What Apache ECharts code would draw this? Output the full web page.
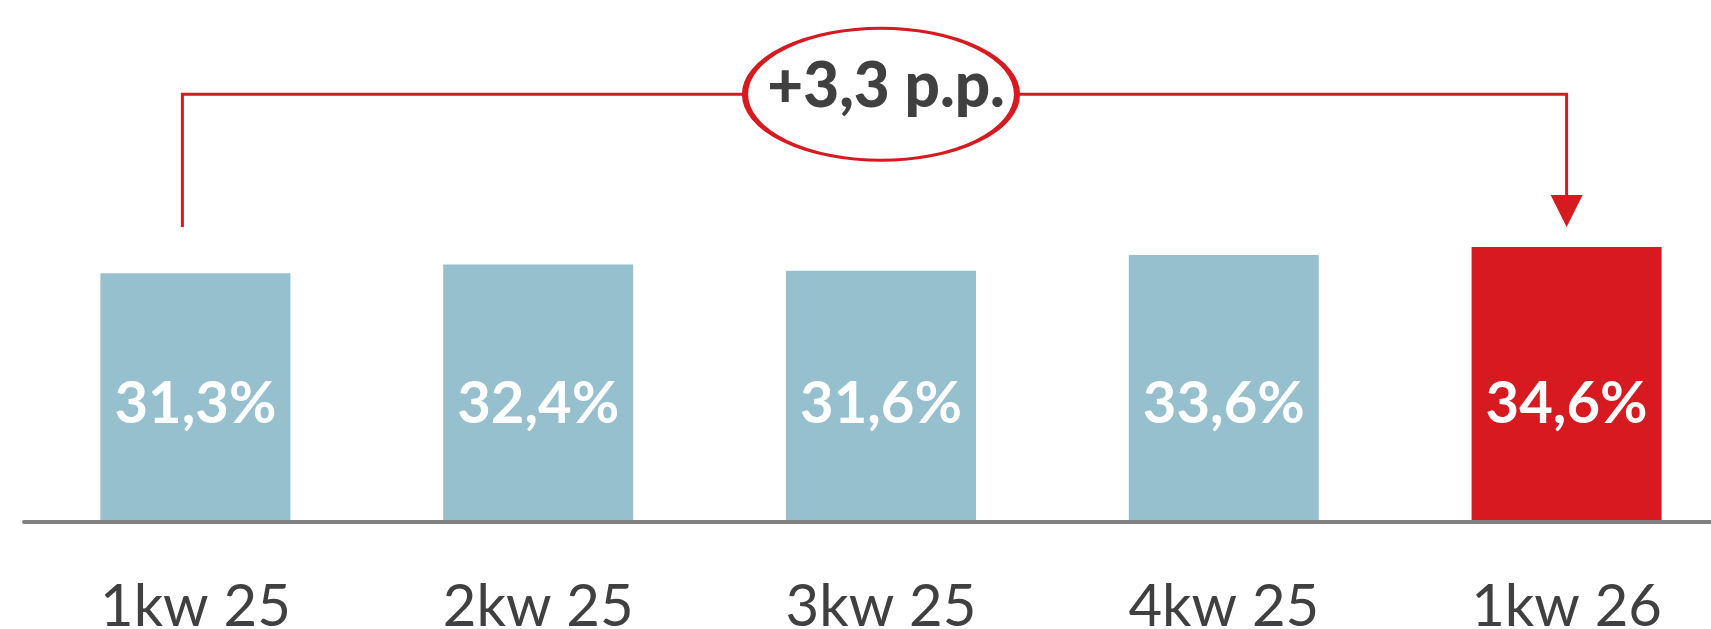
<!DOCTYPE html>
<html>
<head>
<meta charset="utf-8">
<script src="https://cdn.jsdelivr.net/npm/echarts@6/dist/echarts.min.js"></script>
<style>
  html, body { margin: 0; padding: 0; background: #fff; }
  #chart { width: 1711px; height: 629px; }
</style>
</head>
<body>
<div id="chart"></div>
<script>
// dane
const categories = ['1kw 25', '2kw 25', '3kw 25', '4kw 25', '1kw 26'];
const values = [31.3, 32.4, 31.6, 33.6, 34.6];
const highlightIndex = 4;

const BLUE = '#97c0ce';
const RED = '#d71920';
const DARK = '#404040';

const fmt = (v) => v.toFixed(1).replace('.', ',');

let chart = echarts.init(document.getElementById('chart'));

let option = {
  animation: false,
  grid: {
    left: 24,
    top: 45,
    width: 1714,
    height: 477,
    containLabel: false,
    outerBoundsMode: 'none'
  },
  xAxis: {
    type: 'category',
    data: categories,
    z: 5,
    axisLine: { lineStyle: { color: '#808080', width: 4 } },
    axisTick: { show: false },
    axisLabel: {
      color: DARK,
      fontFamily: 'Lato',
      fontSize: 58,
      margin: 56
    }
  },
  yAxis: {
    type: 'value',
    min: 0,
    max: 60,
    show: false,
    splitLine: { show: false }
  },
  series: [
    {
      type: 'bar',
      barWidth: 190,
      data: values.map((v, i) => ({
        value: v,
        itemStyle: { color: i === highlightIndex ? RED : BLUE }
      })),
      label: {
        show: true,
        position: 'insideBottom',
        distance: 89,
        color: '#fff',
        fontFamily: 'Lato',
        fontWeight: 'bold',
        fontSize: 58,
        formatter: (p) => fmt(p.value) + '%'
      }
    }
  ]
};
chart.setOption(option);

// adnotacja: zmiana od pierwszego do ostatniego kwartalu
const first = 0, last = values.length - 1;
const px = (i, v) => chart.convertToPixel({ gridIndex: 0 }, [i, v]);
const bracketLevel = 53.8;
const legEnd = Math.max(...values) + 2.5;

const [xL, yLeg] = px(first, legEnd);
const [xR, yTip] = px(last, legEnd);
const yTop = px(first, bracketLevel)[1];
const xMid = px(2, 0)[0];
const xLeft = xL - 13;
const change = '+' + fmt(values[last] - values[first]) + ' p.p.';

chart.setOption({
  graphic: [
    {
      type: 'polyline',
      z: 10,
      shape: { points: [[xLeft, yLeg], [xLeft, yTop], [xR, yTop], [xR, yTip - 30]] },
      style: { stroke: RED, lineWidth: 3, fill: null, lineJoin: 'miter' }
    },
    {
      type: 'polygon',
      z: 10,
      shape: { points: [[xR - 16, yTip - 32], [xR + 16, yTip - 32], [xR, yTip]] },
      style: { fill: RED }
    },
    {
      type: 'circle',
      z: 11,
      x: xMid,
      y: yTop,
      scaleX: 136 / 66,
      shape: { cx: 0, cy: 0, r: 66 },
      style: { fill: '#fff', stroke: RED, lineWidth: 3, strokeNoScale: true }
    },
    {
      type: 'text',
      z: 12,
      x: xMid + 5,
      y: yTop - 7,
      style: {
        text: change,
        fill: DARK,
        fontFamily: 'Lato',
        fontWeight: 900,
        fontSize: 62,
        align: 'center',
        verticalAlign: 'middle'
      }
    }
  ]
});

window.addEventListener('resize', function () {
  chart.resize();
});
</script>
</body>
</html>
